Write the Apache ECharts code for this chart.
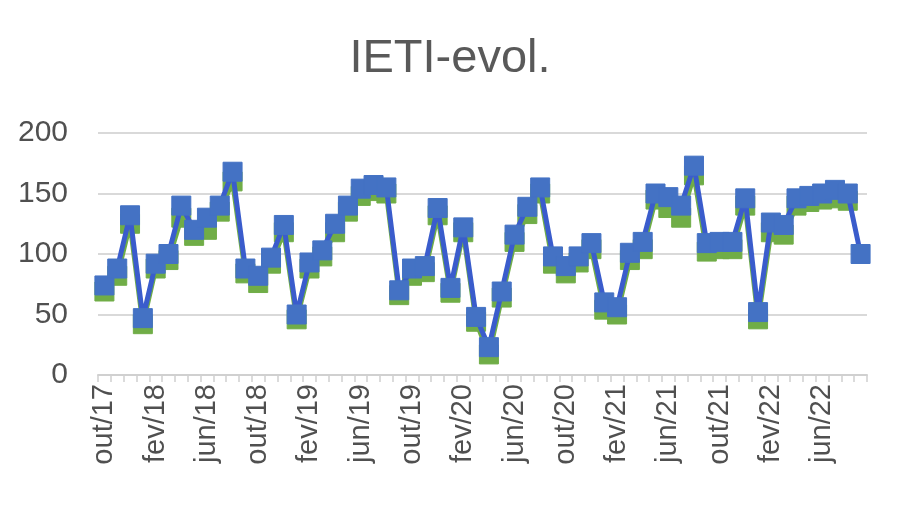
<!DOCTYPE html>
<html>
<head>
<meta charset="utf-8">
<script src="https://cdn.jsdelivr.net/npm/echarts@6/dist/echarts.min.js"></script>
<style>
  html, body { margin: 0; padding: 0; background: #ffffff; }
  #chart { width: 900px; height: 511px; }
</style>
</head>
<body>
<div id="chart"></div>
<script>
const titleText = 'IETI-evol.';

const categories = [
  'out/17','nov/17','dez/17',
  'jan/18','fev/18','mar/18','abr/18','mai/18','jun/18','jul/18','ago/18','set/18','out/18','nov/18','dez/18',
  'jan/19','fev/19','mar/19','abr/19','mai/19','jun/19','jul/19','ago/19','set/19','out/19','nov/19','dez/19',
  'jan/20','fev/20','mar/20','abr/20','mai/20','jun/20','jul/20','ago/20','set/20','out/20','nov/20','dez/20',
  'jan/21','fev/21','mar/21','abr/21','mai/21','jun/21','jul/21','ago/21','set/21','out/21','nov/21','dez/21',
  'jan/22','fev/22','mar/22','abr/22','mai/22','jun/22','jul/22','ago/22','set/22'
];

// blue series (front)
const blueValues = [
  74, 88, 132, 47, 92, 100, 140, 120, 130, 140,
  168, 88, 82, 97, 124, 50, 93, 103, 125, 140,
  154, 157, 155, 70, 88, 90, 138, 72, 122, 48,
  23, 69, 116, 139, 155, 98, 90, 98, 109, 60,
  56, 101, 110, 150, 147, 140, 173, 109, 110, 110,
  146, 52, 126, 124, 146, 148, 150, 153, 150, 100
];

// green series (behind)
const greenValues = [
  69, 82, 125, 42, 88, 95, 130, 115, 120, 135,
  160, 84, 76, 92, 118, 46, 88, 98, 118, 135,
  148, 152, 150, 66, 82, 85, 132, 68, 118, 44,
  17, 64, 110, 133, 150, 92, 84, 93, 104, 54,
  50, 95, 104, 145, 138, 130, 165, 102, 104, 104,
  140, 46, 118, 116, 140, 143, 145, 146, 144, null
];

const yTicks = { min: 0, max: 200, interval: 50 };

const chart = echarts.init(document.getElementById('chart'), null, { renderer: 'canvas' });

chart.setOption({
  animation: false,
  backgroundColor: '#ffffff',
  title: {
    text: titleText,
    left: 'center',
    top: 31,
    textStyle: {
      fontFamily: 'Liberation Sans, Arial, sans-serif',
      fontSize: 47,
      fontWeight: 'normal',
      color: '#595959'
    }
  },
  grid: {
    left: 98,
    right: 33,
    top: 133,
    bottom: 136,
    containLabel: false
  },
  xAxis: {
    type: 'category',
    data: categories,
    boundaryGap: true,
    axisLine: { show: true, lineStyle: { color: '#d0d0d0', width: 2 } },
    axisTick: { show: true, interval: 0, length: 7, lineStyle: { color: '#d0d0d0', width: 1.5 } },
    axisLabel: {
      interval: 3,
      rotate: 90,
      margin: 9,
      fontFamily: 'Liberation Sans, Arial, sans-serif',
      fontSize: 29,
      color: '#505050'
    },
    splitLine: { show: false }
  },
  yAxis: {
    type: 'value',
    min: yTicks.min,
    max: yTicks.max,
    interval: yTicks.interval,
    axisLine: { show: false },
    axisTick: { show: false },
    axisLabel: {
      margin: 30,
      fontFamily: 'Liberation Sans, Arial, sans-serif',
      fontSize: 30,
      color: '#505050'
    },
    splitLine: { show: true, lineStyle: { color: '#d9d9d9', width: 2 } }
  },
  series: [
    {
      name: 'green',
      type: 'line',
      data: greenValues,
      z: 2,
      symbol: 'rect',
      symbolSize: 19,
      showAllSymbol: true,
      connectNulls: false,
      lineStyle: { color: '#70ad47', width: 5 },
      itemStyle: { color: '#70ad47', borderColor: '#70ad47', borderWidth: 1 }
    },
    {
      name: 'blue',
      type: 'line',
      data: blueValues,
      z: 3,
      symbol: 'rect',
      symbolSize: 19,
      showAllSymbol: true,
      lineStyle: { color: '#3a5ccc', width: 5 },
      itemStyle: { color: '#4472c4', borderColor: '#4472c4', borderWidth: 1 }
    }
  ]
});
</script>
</body>
</html>
